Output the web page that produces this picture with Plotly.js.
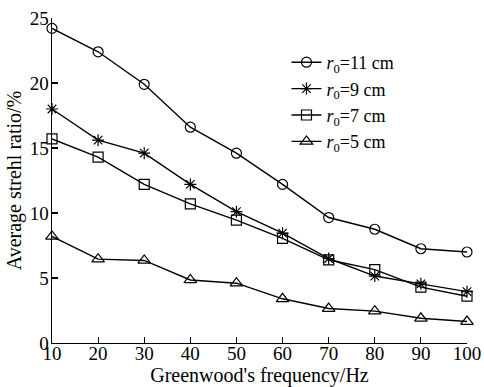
<!DOCTYPE html>
<html>
<head>
<meta charset="utf-8">
<script src="https://cdn.plot.ly/plotly-3.0.1.min.js"></script>
<style>html,body{margin:0;padding:0;background:#fff;}#chart{width:484px;height:387px;}</style>
</head>
<body>
<div id="chart"></div>
<script>
const freq = [10, 20, 30, 40, 50, 60, 70, 80, 90, 100];
const r11 = [24.2, 22.4, 19.9, 16.6, 14.6, 12.2, 9.65, 8.75, 7.25, 7.0];
const r9  = [18.0, 15.6, 14.6, 12.2, 10.1, 8.45, 6.5, 5.15, 4.55, 3.95];
const r7  = [15.7, 14.3, 12.2, 10.7, 9.45, 8.05, 6.4, 5.65, 4.3, 3.6];
const r5  = [8.2, 6.45, 6.35, 4.85, 4.6, 3.4, 2.65, 2.45, 1.9, 1.65];
const seriesNames = ['<i>r</i><sub>0</sub>=11 cm', '<i>r</i><sub>0</sub>=9 cm', '<i>r</i><sub>0</sub>=7 cm', '<i>r</i><sub>0</sub>=5 cm'];
const yTickVals = [0, 5, 10, 15, 20, 25];
const xTickVals = [10, 20, 30, 40, 50, 60, 70, 80, 90, 100];

const symbols = ['circle-open', 'asterisk-open', 'square-open', 'triangle-up-open'];
const sizes = [10, 10, 10, 11];
const ys = [r11, r9, r7, r5];

const traces = ys.map((y, i) => ({
  x: freq, y: y, name: seriesNames[i], type: 'scatter', mode: 'lines+markers',
  line: {color: '#000', width: 1.4},
  marker: {symbol: symbols[i], size: sizes[i], color: '#000', line: {color: '#000', width: 1.2}},
  cliponaxis: false
}));

const FAM = 'Liberation Serif';
function f(size) { return {family: FAM, size: size, color: '#000'}; }

const layout = {
  width: 484, height: 387,
  margin: {l: 52, r: 17, t: 18, b: 44},
  paper_bgcolor: '#fff', plot_bgcolor: '#fff',
  font: f(19),
  showlegend: true,
  legend: {
    x: 0.565, y: 0.92, xanchor: 'left', yanchor: 'top',
    bgcolor: 'rgba(0,0,0,0)', borderwidth: 0,
    font: f(18),
    tracegroupgap: 0, itemwidth: 30
  },
  xaxis: {
    range: [10, 100], tickvals: xTickVals, ticktext: xTickVals.map(String),
    ticks: 'inside', ticklen: 6, tickwidth: 1.2, tickcolor: '#000',
    showline: true, linecolor: '#000', linewidth: 1.4, mirror: false,
    showgrid: false, zeroline: false,
    tickfont: f(19), ticklabelstandoff: -7,
    title: {text: "Greenwood's frequency/Hz", font: f(20), standoff: 2}
  },
  yaxis: {
    range: [0, 25], tickvals: yTickVals, ticktext: yTickVals.map(String),
    ticks: 'inside', ticklen: 6, tickwidth: 1.2, tickcolor: '#000',
    showline: true, linecolor: '#000', linewidth: 1.4, mirror: false,
    showgrid: false, zeroline: false,
    tickfont: f(19), ticklabelstandoff: -2,
    title: {text: 'Average strehl ratio/%', font: f(20), standoff: 2}
  }
};

Plotly.newPlot('chart', traces, layout, {displayModeBar: false, staticPlot: true});
</script>
</body>
</html>
